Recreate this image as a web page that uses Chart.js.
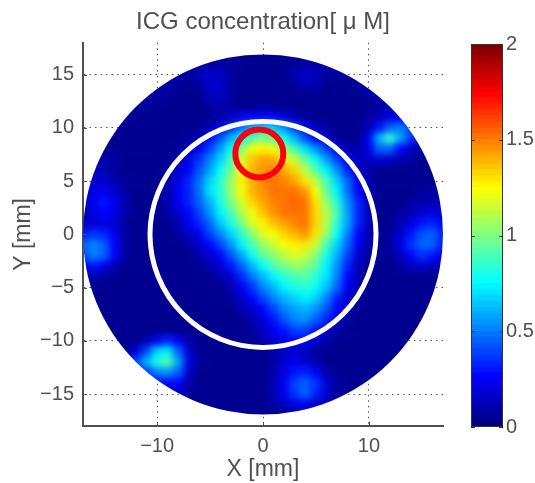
<!DOCTYPE html>
<html>
<head>
<meta charset="utf-8">
<title>ICG concentration</title>
<script src="https://cdn.jsdelivr.net/npm/chart.js@4"></script>
<style>
  html, body { margin: 0; padding: 0; background: #fff; }
  #wrap { position: relative; width: 535px; height: 483px; overflow: hidden; }
  #wrap canvas { position: absolute; top: 0; }
</style>
</head>
<body>
<div id="wrap">
  <canvas id="mapChart" width="535" height="483" style="left:0"></canvas>
  <canvas id="barChart" width="75" height="483" style="left:460px"></canvas>
</div>
<script>
// axis ticks
const xTicks = [-10, 0, 10];
const yTicks = [-15, -10, -5, 0, 5, 10, 15];
const barTicks = [0, 0.5, 1, 1.5, 2];

// cell centres in mm
const xCells = [-17,-16,-15,-14,-13,-12,-11,-10,-9,-8,-7,-6,-5,-4,-3,-2,-1,0,1,2,3,4,5,6,7,8,9,10,11,12,13,14,15,16,17];
const yCells = [17,16,15,14,13,12,11,10,9,8,7,6,5,4,3,2,1,0,-1,-2,-3,-4,-5,-6,-7,-8,-9,-10,-11,-12,-13,-14,-15,-16,-17];

// ICG in hundredths of a uM, one row per yCells entry
const icgRows = [
  [6,6,6,6,6,6,6,6,6,6,6,6,6,6,6,6,6,6,6,6,6,6,6,6,6,6,6,6,6,6,6,6,6,6,6],
  [8,8,8,8,8,8,8,8,8,8,8,8,9,9,7,6,6,6,6,6,7,8,8,8,8,8,8,8,8,8,8,8,8,8,8],
  [9,9,9,9,9,9,9,9,9,9,9,10,16,14,8,5,5,5,5,6,10,16,14,9,8,9,10,10,10,10,10,10,10,10,10],
  [9,9,9,9,9,9,9,9,9,8,6,8,18,16,8,5,4,4,4,5,7,12,10,6,5,6,8,10,10,10,10,10,10,10,10],
  [9,9,9,9,9,9,9,9,8,6,5,6,14,14,7,4,4,4,4,4,5,6,6,4,4,4,5,7,10,10,10,10,10,10,10],
  [9,9,9,9,9,9,8,6,5,4,4,5,9,12,8,6,6,7,6,5,4,4,4,4,4,4,4,5,7,12,14,16,14,10,10],
  [9,9,9,9,8,6,5,4,4,4,4,4,6,9,14,22,26,28,26,20,12,7,4,4,4,4,5,8,14,20,24,20,16,12,10],
  [9,9,9,8,6,5,4,4,4,4,4,5,12,22,36,48,60,70,66,54,38,24,14,8,4,4,5,12,30,46,52,38,22,12,10],
  [10,10,8,6,5,4,4,4,4,4,8,14,26,42,60,76,92,100,94,78,60,42,28,16,8,4,6,24,62,86,58,36,18,10,10],
  [10,8,6,5,4,4,4,4,4,8,14,24,40,58,76,100,122,128,122,104,88,70,54,38,22,10,12,20,44,46,26,13,8,6,6],
  [10,12,10,8,6,4,4,4,5,12,20,36,52,68,90,116,136,142,142,128,114,94,76,58,40,24,14,16,18,14,10,8,6,5,5],
  [12,14,12,9,6,4,4,4,7,16,26,42,58,76,98,124,140,146,148,142,132,112,92,72,54,32,16,8,6,5,5,5,5,5,5],
  [12,16,16,12,7,5,4,5,10,20,32,48,66,84,104,128,140,148,150,148,142,130,110,88,68,44,24,10,5,4,4,5,6,6,6],
  [14,20,22,16,9,5,4,5,10,22,32,48,70,84,104,124,138,146,150,152,152,144,122,96,72,48,28,10,5,4,4,6,8,8,8],
  [14,24,30,22,10,5,4,5,10,22,32,46,62,80,98,118,132,142,148,152,154,150,130,106,82,54,32,14,5,4,5,8,10,12,12],
  [12,20,26,20,10,5,4,5,8,16,28,40,56,72,90,108,124,136,144,150,152,150,134,112,88,58,34,14,6,5,8,12,16,20,16],
  [14,18,20,16,8,5,4,4,6,12,22,32,46,64,80,98,116,128,136,142,148,150,134,112,84,58,32,14,6,6,12,20,30,34,24],
  [30,36,34,22,8,4,4,4,4,8,14,24,38,52,68,84,102,116,124,132,140,146,130,104,76,50,26,12,6,8,18,30,42,46,34],
  [44,52,46,28,9,4,4,4,4,5,9,16,28,40,56,72,90,104,114,122,128,130,114,90,68,44,22,10,6,8,20,36,46,44,30],
  [40,50,44,26,8,4,4,4,4,4,6,10,18,28,42,58,76,92,102,110,116,114,100,80,60,38,18,8,5,6,14,28,36,30,20],
  [22,30,24,12,6,4,4,4,4,4,4,6,10,18,30,44,60,76,88,98,104,102,92,74,54,32,14,6,4,5,8,14,16,14,10],
  [10,10,8,6,4,4,4,4,4,4,4,4,6,10,18,32,48,62,74,84,90,92,84,70,50,28,10,5,4,4,4,5,6,6,6],
  [6,5,4,4,4,4,4,4,4,4,4,4,4,6,12,24,36,50,62,72,80,82,78,64,44,24,10,4,4,4,4,4,4,4,4],
  [4,4,4,4,4,4,4,4,4,4,4,4,4,4,7,16,26,38,50,60,68,72,66,52,34,18,8,4,4,4,4,4,4,4,4],
  [4,4,4,4,4,4,4,4,4,4,4,4,4,4,5,10,18,28,40,50,58,62,56,42,26,12,4,4,4,4,4,4,4,4,4],
  [4,4,4,4,4,4,4,4,4,4,4,4,4,4,4,6,12,20,30,42,50,54,46,32,18,8,4,4,4,4,4,4,4,4,4],
  [4,4,4,4,4,4,4,4,4,4,4,4,4,4,4,4,8,14,22,30,38,38,30,18,10,4,4,4,4,4,4,4,4,4,4],
  [4,4,4,4,4,5,10,24,34,24,10,5,4,4,4,4,4,10,16,22,26,26,18,10,4,4,4,4,4,4,4,4,4,4,4],
  [4,4,4,4,6,16,38,66,72,44,16,6,4,4,4,4,4,5,8,14,18,14,9,5,4,4,4,4,4,4,4,4,4,4,4],
  [4,4,4,4,18,40,60,80,92,58,20,7,4,4,4,4,4,5,8,16,22,16,10,5,4,4,4,4,4,4,4,4,4,4,4],
  [4,4,4,4,4,20,36,50,56,44,16,6,4,4,4,4,4,5,10,20,30,34,26,12,6,4,4,4,4,4,4,4,4,4,4],
  [4,4,4,4,4,4,14,22,26,26,12,5,4,4,4,4,4,6,12,24,38,46,36,16,7,4,4,4,4,4,4,4,4,4,4],
  [4,4,4,4,4,4,4,8,10,14,8,5,4,4,4,4,4,6,12,24,36,44,34,16,8,5,4,4,4,4,4,4,4,4,4],
  [4,4,4,4,4,4,4,4,4,6,4,4,4,4,4,4,4,6,8,14,20,22,18,10,6,4,4,4,4,4,4,4,4,4,4],
  [5,5,5,5,5,5,5,5,5,5,5,5,5,5,5,5,5,5,5,5,5,5,5,5,5,5,5,5,5,5,5,5,5,5,5]
];

// rings
const diskRadius = 17;
const whiteRing = [{ x: 0, y: 0 }];
const redRing = [{ x: -0.35, y: 7.6 }];

const textColor = '#505050';
const axisColor = '#505050';
const fontFamily = '"Liberation Sans", sans-serif';

function jet(v) {
  const t = Math.min(63, Math.max(0, Math.floor(v / 2 * 64))) / 63;
  const c = a => Math.round(255 * Math.max(0, Math.min(1, a)));
  return 'rgb(' + c(Math.min(4 * t - 1.5, 4.5 - 4 * t)) + ',' + c(Math.min(4 * t - 0.5, 3.5 - 4 * t)) + ',' + c(Math.min(4 * t + 0.5, 2.5 - 4 * t)) + ')';
}

const cells = [];
yCells.forEach((y, r) => xCells.forEach((x, c) => cells.push({ x: x, y: y, v: icgRows[r][c] / 100 })));

function sameSize(canvas) {
  const out = document.createElement('canvas');
  out.width = canvas.width;
  out.height = canvas.height;
  return out;
}

// smooths the heat cells and cuts them to the disk, leaving the grid outside
let backdrop = null;
const softDisk = {
  id: 'softDisk',
  beforeDatasetDraw(chart, args) {
    if (args.index !== 0) return;
    backdrop = sameSize(chart.canvas);
    backdrop.getContext('2d').drawImage(chart.canvas, 0, 0);
  },
  afterDatasetDraw(chart, args) {
    if (args.index !== 0) return;
    const soft = sameSize(chart.canvas);
    const sctx = soft.getContext('2d');
    sctx.filter = 'blur(3.5px)';
    sctx.drawImage(chart.canvas, 0, 0);
    const ctx = chart.ctx;
    const sx = chart.scales.x, sy = chart.scales.y;
    ctx.clearRect(0, 0, chart.width, chart.height);
    ctx.drawImage(backdrop, 0, 0);
    ctx.save();
    ctx.beginPath();
    ctx.arc(sx.getPixelForValue(0), sy.getPixelForValue(0), sx.getPixelForValue(diskRadius) - sx.getPixelForValue(0), 0, Math.PI * 2);
    ctx.clip();
    ctx.drawImage(soft, 0, 0);
    ctx.restore();
  }
};

// MATLAB style ticks pointing into the plot
const innerTicks = {
  id: 'innerTicks',
  afterDraw(chart) {
    const ctx = chart.ctx, a = chart.chartArea;
    ctx.save();
    ctx.strokeStyle = axisColor;
    ctx.lineWidth = 1;
    ctx.beginPath();
    chart.scales.x.ticks.forEach(t => {
      const px = Math.round(chart.scales.x.getPixelForValue(t.value)) + 0.5;
      ctx.moveTo(px, a.bottom); ctx.lineTo(px, a.bottom - 4);
    });
    chart.scales.y.ticks.forEach(t => {
      const py = Math.round(chart.scales.y.getPixelForValue(t.value)) + 0.5;
      ctx.moveTo(a.left, py); ctx.lineTo(a.left + 4, py);
    });
    ctx.stroke();
    ctx.restore();
  }
};

new Chart(document.getElementById('mapChart'), {
  type: 'scatter',
  data: {
    datasets: [
      { label: 'ICG', data: cells, order: 3, clip: false, pointStyle: 'rect', pointRadius: 8, borderWidth: 0,
        backgroundColor: ctx => jet(ctx.raw.v) },
      { label: 'white', data: whiteRing, order: 2, pointRadius: 113, borderWidth: 5, borderColor: '#fff', backgroundColor: 'transparent' },
      { label: 'red', data: redRing, order: 1, pointRadius: 24, borderWidth: 6, borderColor: '#fa0010', backgroundColor: 'transparent' }
    ]
  },
  plugins: [softDisk, innerTicks],
  options: {
    responsive: false,
    animation: false,
    events: [],
    layout: { autoPadding: false, padding: { left: 0, right: 92, top: 0, bottom: 0 } },
    plugins: {
      legend: { display: false },
      tooltip: { enabled: false },
      title: {
        display: true,
        text: 'ICG concentration[ μ M]',
        color: textColor,
        fullSize: false,
        font: { family: fontFamily, size: 24, weight: 'normal' },
        padding: { top: 8, bottom: 6 }
      }
    },
    scales: {
      x: {
        type: 'linear', min: -17, max: 17,
        afterBuildTicks: s => { s.ticks = xTicks.map(v => ({ value: v })); },
        afterFit: s => { s.height = 57; },
        ticks: { color: textColor, padding: 8, maxRotation: 0, font: { family: fontFamily, size: 20 },
          callback: v => String(v).replace('-', '\u2212') },
        grid: { color: '#555', drawTicks: false },
        border: { color: axisColor, width: 2, dash: [1.5, 4] },
        title: { display: true, text: 'X [mm]', color: textColor, font: { family: fontFamily, size: 23 }, padding: { top: 0, bottom: 0 } }
      },
      y: {
        type: 'linear', min: -18, max: 18,
        afterBuildTicks: s => { s.ticks = yTicks.map(v => ({ value: v })); },
        afterFit: s => { s.width = 83; },
        ticks: { color: textColor, padding: 9, font: { family: fontFamily, size: 20 },
          callback: v => String(v).replace('-', '\u2212') },
        grid: { color: '#555', drawTicks: false },
        border: { color: axisColor, width: 2, dash: [1.5, 4] },
        title: { display: true, text: 'Y [mm]', color: textColor, font: { family: fontFamily, size: 23 }, padding: { top: 10, bottom: 0 } }
      }
    }
  }
});

// colour bar, 64 steps
const barLevels = [];
for (let i = 0; i < 64; i++) barLevels.push([i / 32, (i + 1) / 32]);

const barFrame = {
  id: 'barFrame',
  afterDraw(chart) {
    const ctx = chart.ctx, a = chart.chartArea;
    ctx.save();
    ctx.strokeStyle = '#333';
    ctx.lineWidth = 1;
    ctx.strokeRect(a.left + 0.5, a.top + 0.5, a.right - a.left - 1, a.bottom - a.top - 1);
    ctx.beginPath();
    chart.scales.y.ticks.forEach(t => {
      const py = Math.round(chart.scales.y.getPixelForValue(t.value)) + 0.5;
      ctx.moveTo(a.left, py); ctx.lineTo(a.left + 4, py);
      ctx.moveTo(a.right, py); ctx.lineTo(a.right - 4, py);
    });
    ctx.stroke();
    ctx.restore();
  }
};

new Chart(document.getElementById('barChart'), {
  type: 'bar',
  data: {
    labels: [''],
    datasets: barLevels.map(l => ({
      data: [l],
      backgroundColor: jet(l[0] + 0.001),
      borderWidth: 0,
      grouped: false,
      barPercentage: 1,
      categoryPercentage: 1
    }))
  },
  plugins: [barFrame],
  options: {
    responsive: false,
    animation: false,
    events: [],
    layout: { autoPadding: false, padding: { left: 11, right: 0, top: 44, bottom: 56 } },
    plugins: { legend: { display: false }, tooltip: { enabled: false } },
    scales: {
      x: { display: false },
      y: {
        position: 'right', min: 0, max: 2,
        afterBuildTicks: s => { s.ticks = barTicks.map(v => ({ value: v })); },
        afterFit: s => { s.width = 32; },
        grid: { display: false, drawTicks: false },
        border: { display: false },
        ticks: { color: textColor, padding: 3, font: { family: fontFamily, size: 20 }, callback: v => String(v) }
      }
    }
  }
});
</script>
</body>
</html>
